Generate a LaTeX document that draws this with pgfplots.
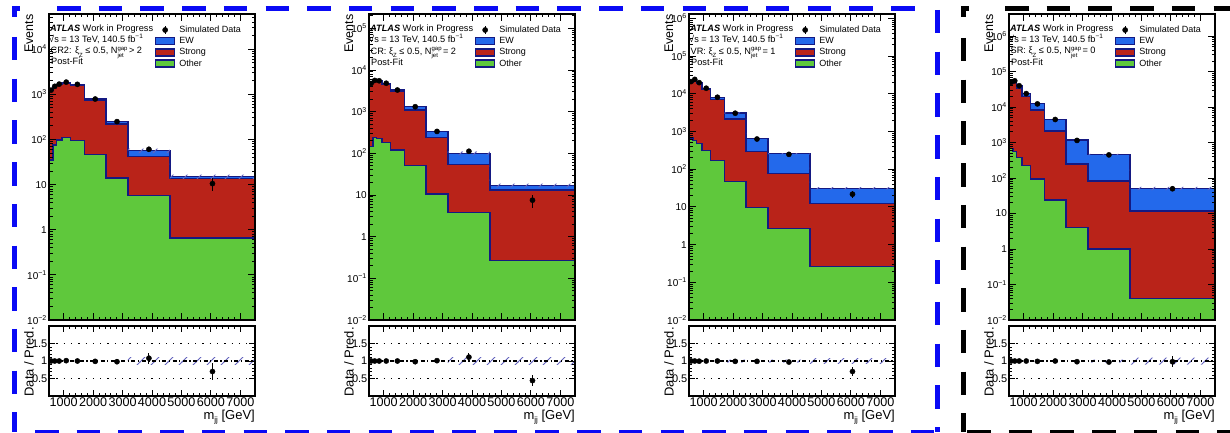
\documentclass[border=0pt]{standalone}
\usepackage{fontspec}
\setmainfont{Liberation Sans}
\usepackage{pgfplots}
\pgfplotsset{compat=1.18}
\usepackage{pgfplotstable}
\usetikzlibrary{patterns}

\definecolor{ewblue}{RGB}{35,105,235}
\definecolor{strongred}{RGB}{185,35,25}
\definecolor{othergreen}{RGB}{95,200,60}
\definecolor{outl}{RGB}{20,25,130}
\definecolor{hatchc}{RGB}{100,100,190}
\definecolor{bordblue}{RGB}{10,10,245}

\pgfdeclarepatternformonly{widehatch}{\pgfqpoint{-1pt}{-1pt}}{\pgfqpoint{15pt}{15pt}}{\pgfqpoint{14pt}{14pt}}{%
  \pgfsetlinewidth{0.8pt}\pgfpathmoveto{\pgfqpoint{-0.5pt}{-0.5pt}}\pgfpathlineto{\pgfqpoint{14.5pt}{14.5pt}}\pgfusepath{stroke}}

\newcommand{\atlasfont}{\fontsize{9.2}{11}\selectfont}
\newcommand{\Ngap}{N\rlap{\raisebox{0.75ex}{\fontsize{6}{6}\selectfont gap}}\raisebox{-0.7ex}{\fontsize{6}{6}\selectfont jet}}
\newcommand{\xiZ}{ξ\raisebox{-0.7ex}{\fontsize{6}{6}\selectfont Z}}

\pgfplotsset{
  boxlegend/.style={legend image code/.code={\draw[#1, line width=1.3pt] (0pt,-3.5pt) rectangle (19pt,3.5pt);}},
  dotlegend/.style={legend image code/.code={\path (0pt,0pt) (19pt,0pt); \fill[black] (9.5pt,0pt) circle (2.6pt); \draw[black, line width=1pt] (9.5pt,-4pt) -- (9.5pt,4pt);}},
}

% ---------- Panel 1: CR2, N_jet^gap > 2 ----------
\pgfplotstableread{
x G R B
500 0.001 0.001 0.001
500 35 1200 1225
640 75 1450 1490
750 97 1630 1670
940 111 1790 1840
1230 95 1580 1650
1700 46 716 790
2440 14 218 252
3180 5.8 42 56
4610 0.66 13.5 15
7500 0.66 13.5 15
7500 0.001 0.001 0.001
}\histA
\pgfplotstableread{
x y ey r er
570 1235 35 1.0 0.03
695 1500 39 1.0 0.026
845 1680 41 1.0 0.025
1085 1860 43 1.01 0.024
1465 1660 41 1.0 0.025
2070 785 28 0.99 0.036
2810 248 16 0.98 0.063
3895 60.5 7.8 1.08 0.16
6055 10.5 3.2 0.70 0.24
}\dataA
\pgfplotstableread{
x y
3180 49.8
3180 62.2
4610 62.2
4610 16.65
7500 16.65
7500 13.35
4610 13.35
4610 49.8
}\bandA
\pgfplotstableread{
x y
3180 0.89
3180 1.11
7500 1.11
7500 0.89
}\rbandA

% ---------- Panel 2: CR, N_jet^gap = 2 ----------
\pgfplotstableread{
x G R B
500 0.001 0.001 0.001
500 145 4650 4750
640 238 5450 5600
750 229 5300 5500
940 184 4550 4800
1230 120 3050 3300
1700 51 1100 1340
2440 10.6 242 331
3180 3.77 54.5 100
4610 0.265 13.2 17
7500 0.265 13.2 17
7500 0.001 0.001 0.001
}\histB
\pgfplotstableread{
x y ey r er
570 4750 69 1.0 0.02
695 5600 75 1.0 0.02
845 5500 74 1.0 0.02
1085 4800 69 1.0 0.02
1465 3300 57 1.0 0.025
2070 1310 36 0.98 0.03
2810 335 18 1.01 0.06
3895 112 10.6 1.11 0.11
6055 7.5 2.7 0.44 0.16
}\dataB
\pgfplotstableread{
x y
3180 90
3180 110
4610 110
4610 18.7
7500 18.7
7500 15.3
4610 15.3
4610 90
}\bandB
\pgfplotstableread{
x y
3180 0.9
3180 1.1
7500 1.1
7500 0.9
}\rbandB

% ---------- Panel 3: VR, N_jet^gap = 1 ----------
\pgfplotstableread{
x G R B
500 0.001 0.001 0.001
500 665 20400 21000
640 575 23000 24000
750 470 18800 19800
940 315 13000 14000
1230 167 7100 8100
1700 47 2120 3070
2440 9.6 295 638
3180 2.7 78 255
4610 0.26 12.5 31
7500 0.26 12.5 31
7500 0.001 0.001 0.001
}\histC
\pgfplotstableread{
x y ey r er
570 21000 145 1.0 0.01
695 24000 155 1.0 0.01
845 19700 140 0.995 0.01
1085 14000 118 1.0 0.01
1465 8070 90 1.0 0.015
2070 3040 55 0.99 0.02
2810 630 25 0.99 0.04
3895 247 15.7 0.97 0.06
6055 21.7 4.7 0.70 0.13
}\dataC
\pgfplotstableread{
x y
1700 2947
1700 3193
2440 3193
2440 664
3180 664
3180 265
4610 265
4610 33.5
7500 33.5
7500 28.5
4610 28.5
4610 245
3180 245
3180 612
2440 612
2440 2947
}\bandC
\pgfplotstableread{
x y
1700 0.96
1700 1.04
4610 1.04
4610 1.08
7500 1.08
7500 0.92
4610 0.92
4610 0.96
}\rbandC

% ---------- Panel 4: SR, N_jet^gap = 0 ----------
\pgfplotstableread{
x G R B
500 0.001 0.001 0.001
500 685 47500 50000
640 553 51000 55000
750 380 34000 40000
940 222 19700 24000
1230 94 8200 12500
1700 24 2110 4470
2440 4.0 248 1180
3180 1.0 82 465
4610 0.041 11.7 51
7500 0.041 11.7 51
7500 0.001 0.001 0.001
}\histD
\pgfplotstableread{
x y ey r er
570 50000 224 1.0 0.005
695 55000 235 1.0 0.005
845 40000 200 1.0 0.006
1085 24000 155 1.0 0.007
1465 12300 111 0.99 0.01
2070 4470 67 1.0 0.015
2810 1150 34 0.98 0.03
3895 450 21 0.97 0.05
6055 50 7 0.98 0.15
}\dataD
\pgfplotstableread{
x y
3180 446
3180 484
4610 484
4610 56.1
7500 56.1
7500 45.9
4610 45.9
4610 446
}\bandD
\pgfplotstableread{
x y
3180 0.96
3180 1.04
4610 1.04
4610 1.1
7500 1.1
7500 0.9
4610 0.9
4610 0.96
}\rbandD

\newcommand{\panel}[9]{%
\begin{axis}[
    at={(#1pt,112pt)}, anchor=south west,
    scale only axis, width=206pt, height=306pt,
    xmin=500, xmax=7500, ymode=log, ymin=1e-2, ymax=#2,
    clip mode=individual,
    xtick={1000,2000,3000,4000,5000,6000,7000}, xticklabels={}, minor x tick num=4,
    ytick={1e-2,0.1,1,10,100,1000,10000,100000,1000000},
    yticklabels={10\textsuperscript{−2},10\textsuperscript{−1},1,10,10\textsuperscript{2},10\textsuperscript{3},10\textsuperscript{4},10\textsuperscript{5},10\textsuperscript{6}},
    axis line style={line width=1.6pt}, axis on top,
    tick style={black, line width=0.8pt},
    major tick length=7pt, minor tick length=3.5pt,
    yticklabel style={font=\fontsize{10}{11}\selectfont, inner sep=2pt},
    legend style={draw=none, fill=none, font=\fontsize{9}{10}\selectfont,
      at={(rel axis cs:0.5146,1)}, anchor=north west, yshift=-11.5pt,
      row sep=2.2pt, column sep=4pt, inner sep=0pt, outer sep=0pt,
      nodes={inner sep=0pt, text height=7pt, text depth=2pt}},
    legend cell align=left]
  \addlegendimage{dotlegend}\addlegendentry{Simulated Data}
  \addlegendimage{boxlegend, fill=ewblue, draw=outl}\addlegendentry{EW}
  \addlegendimage{boxlegend, fill=strongred, draw=outl}\addlegendentry{Strong}
  \addlegendimage{boxlegend, fill=othergreen, draw=outl}\addlegendentry{Other}
  \addplot[const plot mark left, line width=1.3pt, draw=outl, forget plot, fill=ewblue] table[x=x,y=B]{#5};
  \addplot[const plot mark left, line width=1.3pt, draw=outl, forget plot, fill=strongred] table[x=x,y=R]{#5};
  \addplot[const plot mark left, line width=1.3pt, draw=outl, forget plot, fill=othergreen] table[x=x,y=G]{#5};
  \addplot[pattern=widehatch, pattern color=hatchc, draw=none, forget plot] table[x=x,y=y]{#7};
  \addplot[only marks, mark=*, mark size=2.6pt, black, forget plot,
    error bars/.cd, y dir=both, y explicit, error mark=none,
    error bar style={line width=1.1pt, black}] table[x=x,y=y,y error=ey]{#6};
  \node[anchor=base west, inner sep=0pt, font=\atlasfont, xshift=1pt, yshift=-17.5pt] at (rel axis cs:0,1) {\textbf{\textit{ATLAS}} Work in Progress};
  \node[anchor=base west, inner sep=0pt, font=\atlasfont, xshift=0pt, yshift=-28.5pt] at (rel axis cs:0,1) {√s = 13 TeV, 140.5 fb\textsuperscript{−1}};
  \node[anchor=base west, inner sep=0pt, font=\atlasfont, xshift=1.5pt, yshift=-40pt] at (rel axis cs:0,1) {#9};
  \node[anchor=base west, inner sep=0pt, font=\atlasfont, xshift=2pt, yshift=-51pt] at (rel axis cs:0,1) {Post-Fit};
  \node[xshift=-16pt, yshift=-0.5pt, rotate=90, anchor=base east, inner sep=0pt, font=\fontsize{12.5}{14}\selectfont] at (rel axis cs:0,1) {Events};
\end{axis}
\begin{axis}[
    at={(#1pt,36pt)}, anchor=south west,
    scale only axis, width=206pt, height=70pt,
    xmin=500, xmax=7500, ymin=0, ymax=2,
    clip mode=individual,
    xtick={1000,2000,3000,4000,5000,6000,7000}, xticklabels={1000,2000,3000,4000,5000,6000,7000},
    minor x tick num=4, ytick={0.5,1,1.5}, yticklabels={0.5,1,1.5}, minor y tick num=4,
    axis background/.style={fill=white},
    axis line style={line width=1.6pt}, axis on top,
    tick style={black, line width=0.8pt},
    major tick length=6pt, minor tick length=3pt,
    xticklabel style={font=\fontsize{12.6}{14}\selectfont, inner sep=1pt},
    yticklabel style={font=\fontsize{11}{13}\selectfont, inner sep=1.5pt}]
  \addplot[pattern=widehatch, pattern color=hatchc, draw=none, forget plot] table[x=x,y=y]{#8};
  \addplot[black, line width=1.3pt, dash pattern=on 1.3pt off 6pt, forget plot] coordinates {(500,0.5) (7500,0.5)};
  \addplot[black, line width=1.3pt, dash pattern=on 1.3pt off 6pt, forget plot] coordinates {(500,1.5) (7500,1.5)};
  \addplot[black, line width=1.3pt, dash pattern=on 4pt off 2.5pt on 1.3pt off 2.5pt, forget plot] coordinates {(500,1) (7500,1)};
  \addplot[only marks, mark=*, mark size=2.6pt, black, forget plot,
    error bars/.cd, y dir=both, y explicit, error mark=none,
    error bar style={line width=1.1pt, black}] table[x=x,y=r,y error=er]{#6};
  \node[xshift=-15.5pt, yshift=-1pt, rotate=90, anchor=base east, inner sep=0pt, font=\fontsize{13}{15}\selectfont] at (rel axis cs:0,1) {Data / Pred.};
  \node[anchor=base east, inner sep=0pt, font=\fontsize{13}{15}\selectfont, yshift=-23pt] at (rel axis cs:1,0) {m\raisebox{-0.3em}{\fontsize{8}{8}\selectfont jj} [GeV]};
\end{axis}
}

\begin{document}
\begin{tikzpicture}
\useasboundingbox (0pt,0pt) rectangle (1230pt,432pt);

\panel{49}{6e4}{}{}{\histA}{\dataA}{\bandA}{\rbandA}{CR2: \xiZ{} ≤ 0.5, \Ngap{} \ > 2}
\panel{369}{2.2e5}{}{}{\histB}{\dataB}{\bandB}{\rbandB}{CR: \xiZ{} ≤ 0.5, \Ngap{} \ = 2}
\panel{689}{1.3e6}{}{}{\histC}{\dataC}{\bandC}{\rbandC}{VR: \xiZ{} ≤ 0.5, \Ngap{} \ = 1}
\panel{1009}{4.2e6}{}{}{\histD}{\dataD}{\bandD}{\rbandD}{SR: \xiZ{} ≤ 0.5, \Ngap{} \ = 0}

% dashed frames
\begin{scope}[line width=5pt, bordblue, dash pattern=on 23.5pt off 18.2pt]
  \draw (57pt,423.5pt) -- (921pt,423.5pt);
  \draw (14.5pt,395pt) -- (14.5pt,0pt);
  \draw (937.5pt,422pt) -- (937.5pt,0pt);
  \draw (35pt,-0.5pt) -- (937pt,-0.5pt);
  \draw[solid] (12pt,423.5pt) -- (20pt,423.5pt);
  \draw[solid] (14.5pt,426pt) -- (14.5pt,415pt);
\end{scope}
\begin{scope}[line width=5pt, black, dash pattern=on 23.5pt off 18.2pt]
  \draw (1005pt,423pt) -- (1240pt,423pt);
  \draw (963.5pt,394pt) -- (963.5pt,0pt);
  \draw (967pt,-0.5pt) -- (1240pt,-0.5pt);
  \draw[solid] (961pt,423pt) -- (969pt,423pt);
  \draw[solid] (963.5pt,425.5pt) -- (963.5pt,415pt);
\end{scope}
\end{tikzpicture}
\end{document}
